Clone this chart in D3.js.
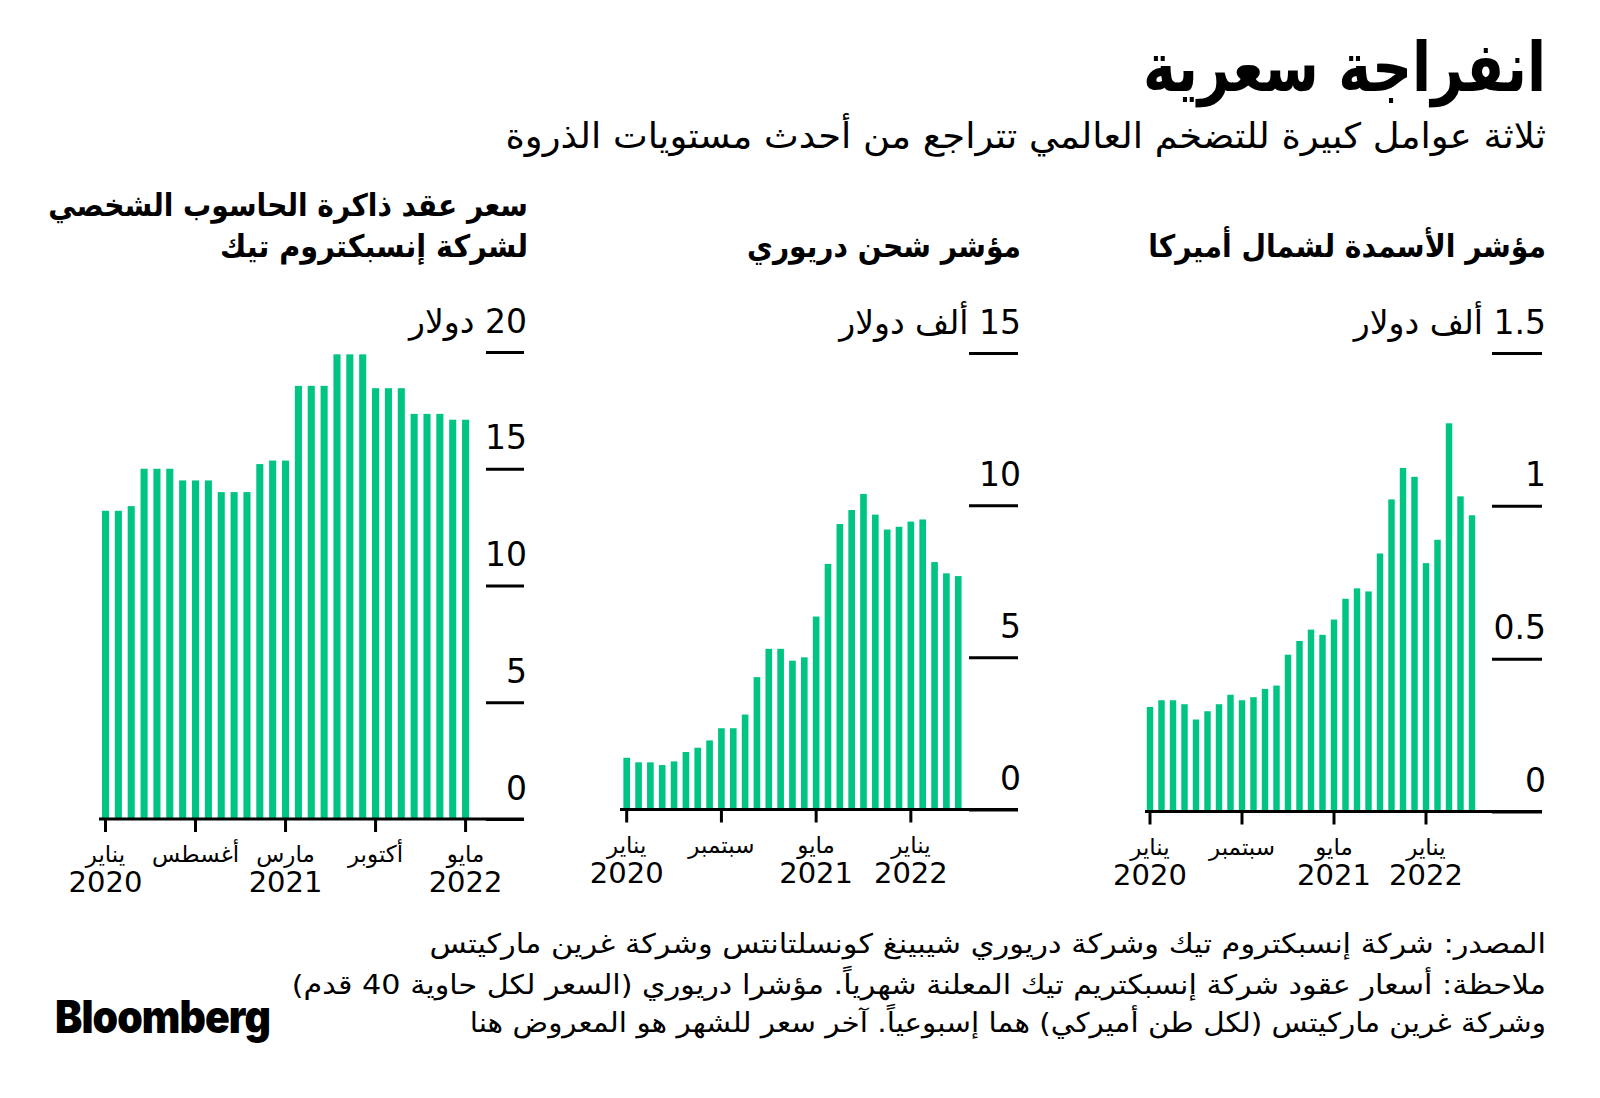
<!DOCTYPE html>
<html>
<head>
<meta charset="utf-8">
<script src="https://cdn.jsdelivr.net/npm/d3@7"></script>
<style>
  html, body { margin: 0; padding: 0; background: #fff; }
  svg { display: block; }
  text { fill: #000; font-family: "DejaVu Sans", sans-serif; }
</style>
</head>
<body>
<svg id="chart" width="1600" height="1098"></svg>
<script>
// ---------------- DATA ----------------
const months = [
  "2020-01","2020-02","2020-03","2020-04","2020-05","2020-06","2020-07","2020-08","2020-09","2020-10","2020-11","2020-12",
  "2021-01","2021-02","2021-03","2021-04","2021-05","2021-06","2021-07","2021-08","2021-09","2021-10","2021-11","2021-12",
  "2022-01","2022-02","2022-03","2022-04","2022-05"
];

// PC DRAM contract price (US$)
const memoryValues = [
  13.2, 13.2, 13.4, 15.0, 15.0, 15.0, 14.5, 14.5, 14.5, 14.0, 14.0, 14.0,
  15.2, 15.35, 15.35, 18.55, 18.55, 18.55, 19.9, 19.9, 19.9, 18.45, 18.45, 18.45,
  17.35, 17.35, 17.35, 17.1, 17.1
];

// Drewry shipping index (thousand US$)
const drewryValues = [
  1.70, 1.55, 1.55, 1.46, 1.58, 1.89, 2.03, 2.27, 2.67, 2.67, 3.12, 4.35,
  5.28, 5.28, 4.89, 5.00, 6.34, 8.07, 9.38, 9.84, 10.37, 9.69, 9.20, 9.29,
  9.46, 9.53, 8.13, 7.76, 7.67
];

// North America fertilizer index (thousand US$)
const fertilizerValues = [
  0.342, 0.364, 0.364, 0.351, 0.301, 0.328, 0.351, 0.382, 0.364, 0.374, 0.401, 0.412,
  0.513, 0.558, 0.595, 0.578, 0.628, 0.696, 0.730, 0.720, 0.844, 1.021, 1.124, 1.095,
  0.8125, 0.889, 1.270, 1.031, 0.969
];

// Y tick values and unit labels
const memoryYTicks = [0, 5, 10, 15, 20];
const drewryYTicks = [0, 5, 10, 15];
const fertilizerYTicks = [0, 0.5, 1, 1.5];
const memoryUnit = "دولار";
const thousandUnit = "ألف دولار";

// X tick labels
const memoryXTicks = ["2020-01", "2020-08", "2021-03", "2021-10", "2022-05"];
const memoryXMonthNames = ["يناير", "أغسطس", "مارس", "أكتوبر", "مايو"];
const memoryXYears = ["2020", "", "2021", "", "2022"];

const otherXTicks = ["2020-01", "2020-09", "2021-05", "2022-01"];
const otherXMonthNames = ["يناير", "سبتمبر", "مايو", "يناير"];
const otherXYears = ["2020", "", "2021", "2022"];

// Texts
const titleText = "انفراجة سعرية";
const subtitleText = "ثلاثة عوامل كبيرة للتضخم العالمي تتراجع من أحدث مستويات الذروة";
const memoryTitle = ["سعر عقد ذاكرة الحاسوب الشخصي", "لشركة إنسبكتروم تيك"];
const drewryTitle = ["مؤشر شحن دريوري"];
const fertilizerTitle = ["مؤشر الأسمدة لشمال أميركا"];
const footerLines = [
  "المصدر: شركة إنسبكتروم تيك وشركة دريوري شيبينغ كونسلتانتس وشركة غرين ماركيتس",
  "ملاحظة: أسعار عقود شركة إنسبكتريم تيك المعلنة شهرياً. مؤشرا دريوري (السعر لكل حاوية 40 قدم)",
  "وشركة غرين ماركيتس (لكل طن أميركي) هما إسبوعياً. آخر سعر للشهر هو المعروض هنا"
];
const logoText = "Bloomberg";

// ---------------- DRAWING ----------------
const GREEN = "#00c484";
const svg = d3.select("#chart");
svg.append("rect").attr("width", 1600).attr("height", 1098).attr("fill", "#fff");

function fitText(sel, width, anchorX) {
  const node = sel.node();
  const w = node.getComputedTextLength();
  if (w > 0 && width) {
    const s = width / w;
    sel.attr("transform", `translate(${anchorX},0) scale(${s},1) translate(${-anchorX},0)`);
  }
  return sel;
}

// right-aligned RTL text
function rtl(g, x, y, str, size, weight, width) {
  const t = g.append("text")
    .attr("x", x).attr("y", y)
    .attr("direction", "rtl")
    .attr("text-anchor", "start")
    .style("font-size", size + "px")
    .style("font-weight", weight || "normal")
    .text(str);
  if (width) fitText(t, width, x);
  return t;
}

// headline
rtl(svg, 1546, 91, titleText, 68, "bold", 403);
rtl(svg, 1546, 148, subtitleText, 35, "normal", 1041);

function drawChart(cfg) {
  const g = svg.append("g");
  const x = d3.scaleBand()
    .domain(months)
    .range([cfg.firstCenter - cfg.step / 2, cfg.firstCenter + cfg.step * (months.length - 0.5)])
    .paddingInner(cfg.pad)
    .paddingOuter(cfg.pad / 2);
  const y = d3.scaleLinear().domain([0, cfg.yMax]).range([cfg.y0, cfg.yTop]);

  // bars
  g.append("g").selectAll("rect")
    .data(cfg.values)
    .join("rect")
    .attr("x", (d, i) => x(months[i]))
    .attr("width", x.bandwidth())
    .attr("y", d => y(d))
    .attr("height", d => y(0) - y(d))
    .attr("fill", GREEN);

  // y axis (short tick lines with labels above, right aligned)
  const yAxis = d3.axisLeft(y)
    .tickValues(cfg.yTicks)
    .tickSize(cfg.lineLen)
    .tickFormat(d => d === cfg.yMax ? `${d} ${cfg.unit}` : `${d}`);
  const ya = g.append("g")
    .attr("transform", `translate(${cfg.lineRight},0)`)
    .call(yAxis);
  ya.select(".domain").remove();
  ya.selectAll(".tick line").attr("stroke", "#000").attr("stroke-width", 3);
  ya.selectAll(".tick text")
    .attr("x", cfg.labelShift)
    .attr("dy", 0)
    .attr("y", -20)
    .attr("direction", "rtl")
    .attr("text-anchor", "start")
    .style("font-family", '"DejaVu Sans", sans-serif')
    .style("font-size", "33px")
    .attr("fill", "#000");

  // baseline
  g.append("line")
    .attr("x1", cfg.baseStart).attr("x2", cfg.lineRight)
    .attr("y1", y(0)).attr("y2", y(0))
    .attr("stroke", "#000").attr("stroke-width", 3);

  // x axis ticks
  const xAxis = d3.axisBottom(x)
    .tickValues(cfg.xTicks)
    .tickSize(13)
    .tickFormat(() => "");
  const xa = g.append("g")
    .attr("transform", `translate(0,${y(0)})`)
    .call(xAxis);
  xa.select(".domain").remove();
  xa.selectAll(".tick line").attr("stroke", "#000").attr("stroke-width", 3);

  cfg.xTicks.forEach((m, i) => {
    const cx = x(m) + x.bandwidth() / 2;
    g.append("text")
      .attr("x", cx).attr("y", y(0) + 43)
      .attr("text-anchor", "middle")
      .attr("direction", "rtl")
      .style("font-size", "23px")
      .text(cfg.xNames[i]);
    if (cfg.xYears[i]) {
      g.append("text")
        .attr("x", cx).attr("y", y(0) + 73)
        .attr("text-anchor", "middle")
        .style("font-size", "29px")
        .text(cfg.xYears[i]);
    }
  });

  // chart title
  cfg.title.forEach((line, i) => {
    rtl(g, cfg.titleRight, cfg.titleY[i], line, 31, "bold", cfg.titleW[i]);
  });
}

drawChart({
  values: memoryValues, yMax: 20, yTicks: memoryYTicks, unit: memoryUnit,
  firstCenter: 105.5, step: 12.86, pad: 0.45,
  y0: 819, yTop: 352, lineRight: 524, lineLen: 38, labelShift: 3, baseStart: 99,
  xTicks: memoryXTicks, xNames: memoryXMonthNames, xYears: memoryXYears,
  title: memoryTitle, titleRight: 528, titleY: [216, 257], titleW: [480, 308]
});

drawChart({
  values: drewryValues, yMax: 15, yTicks: drewryYTicks, unit: thousandUnit,
  firstCenter: 626.7, step: 11.84, pad: 0.44,
  y0: 809.5, yTop: 353, lineRight: 1018, lineLen: 49, labelShift: 3, baseStart: 620,
  xTicks: otherXTicks, xNames: otherXMonthNames, xYears: otherXYears,
  title: drewryTitle, titleRight: 1021, titleY: [257], titleW: [274]
});

drawChart({
  values: fertilizerValues, yMax: 1.5, yTicks: fertilizerYTicks, unit: thousandUnit,
  firstCenter: 1150, step: 11.5, pad: 0.44,
  y0: 811.5, yTop: 353, lineRight: 1542, lineLen: 50, labelShift: 4, baseStart: 1145,
  xTicks: otherXTicks, xNames: otherXMonthNames, xYears: otherXYears,
  title: fertilizerTitle, titleRight: 1546, titleY: [257], titleW: [398]
});

// footer
const footerY = [953, 994, 1032];
const footerW = [1117, 1255, 1077];
footerLines.forEach((line, i) => rtl(svg, 1546, footerY[i], line, 27, "normal", footerW[i]));

// logo
const logo = svg.append("text")
  .attr("x", 55).attr("y", 1033)
  .attr("text-anchor", "start")
  .style("font-family", "Inter, Roboto, sans-serif")
  .style("font-weight", 900)
  .style("font-size", "45px")
  .style("letter-spacing", "-1px")
  .text(logoText);
fitText(logo, 215, 55);
</script>
</body>
</html>
